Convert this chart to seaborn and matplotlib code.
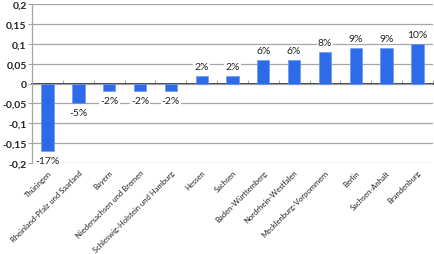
import matplotlib
matplotlib.use("Agg")
import matplotlib.pyplot as plt
import seaborn as sns
import numpy as np

categories = ["Thüringen", "Rheinland-Pfalz und Saarland", "Bayern",
              "Niedersachsen und Bremen", "Schleswig-Holstein und Hamburg",
              "Hessen", "Sachsen", "Baden-Württemberg", "Nordrhein-Westfalen",
              "Mecklenburg-Vorpommern", "Berlin", "Sachsen-Anhalt", "Brandenburg"]
values = [-0.17, -0.05, -0.02, -0.02, -0.02, 0.02, 0.02, 0.06, 0.06, 0.08, 0.09, 0.09, 0.10]
ytick_values = [0.2, 0.15, 0.1, 0.05, 0, -0.05, -0.1, -0.15, -0.2]
ytick_labels = ["0,2", "0,15", "0,1", "0,05", "0", "-0,05", "-0,1", "-0,15", "-0,2"]

sns.set_theme(style="white")
plt.rcParams['font.family'] = ['Lato', 'DejaVu Sans']

fig = plt.figure(figsize=(4.35, 2.55), dpi=100)
ax = fig.add_axes([0.074, 0.357, 0.921, 0.623])

sns.barplot(x=categories, y=values, color="#2D6BE8", saturation=1, width=0.4,
            edgecolor="#6C9BF0", linewidth=0.5, ax=ax, zorder=3)

ax.set_ylim(-0.2, 0.2)
ax.set_xlim(-0.5, len(categories) - 0.5)
ax.set_yticks(ytick_values)
ax.set_yticklabels(ytick_labels, fontsize=7.5, fontweight="bold", color="#222222")
ax.yaxis.grid(True, color="#A6A6A6", linewidth=0.9, zorder=0)
ax.xaxis.grid(False)
for s in ["top", "right", "bottom"]:
    ax.spines[s].set_visible(False)
ax.spines["left"].set_color("#A6A6A6")
ax.spines["left"].set_linewidth(0.9)
ax.tick_params(axis="y", length=3, width=0.8, color="#A6A6A6", pad=1, left=True, direction="out")
ax.tick_params(axis="x", length=0, pad=4)
ax.set_xticks(range(len(categories)))
ax.set_xticklabels(categories, rotation=45, ha="right", rotation_mode="anchor",
                   fontsize=5.5, color="#222222")
ax.set_xlabel("")
ax.set_ylabel("")

# zero axis with boundary ticks
sec = ax.secondary_xaxis(0.5)
sec.set_xticks(np.arange(-0.5, len(categories) + 0.5, 1.0))
sec.set_xticklabels([])
sec.tick_params(axis="x", length=3, width=0.8, color="#A6A6A6", direction="out")
sec.spines["bottom"].set_color("#A6A6A6")
sec.spines["bottom"].set_linewidth(0.9)

labels = [f"{round(v * 100)}%" for v in values]
ax.bar_label(ax.containers[0], labels=labels, padding=3.5, fontsize=7.5, color="#222222",
             bbox=dict(facecolor="white", edgecolor="none", pad=0.8), zorder=4)

fig.savefig("out.png", dpi=100)
